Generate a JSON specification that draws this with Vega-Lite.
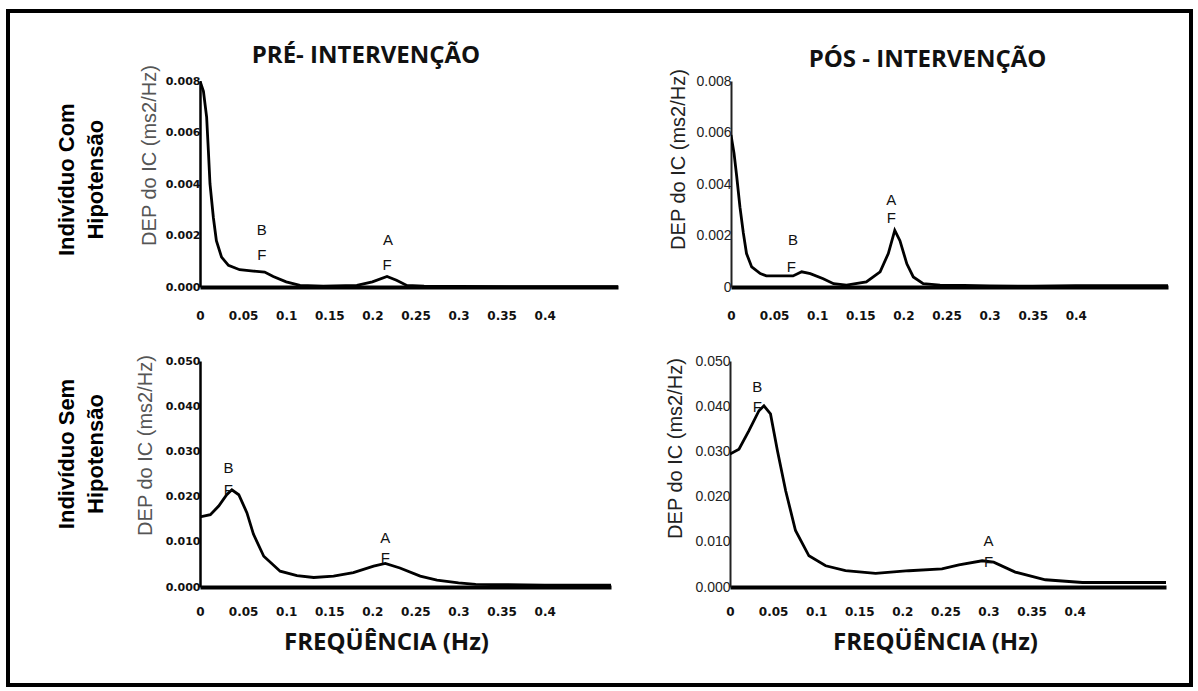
{
  "$schema": "https://vega.github.io/schema/vega-lite/v6.json",
  "padding": {"left": 6, "top": 9, "right": 0, "bottom": 0},
  "background": "white",
  "config": {"view": {"stroke": null}, "font": "Liberation Sans"},
  "datasets": {
    "none": [],
    "curves": [
      {"p": "TL", "f": 0, "v": 0.008}, {"p": "TL", "f": 0.004, "v": 0.0076}, {"p": "TL", "f": 0.0077, "v": 0.0066},
      {"p": "TL", "f": 0.0097, "v": 0.0053}, {"p": "TL", "f": 0.0116, "v": 0.004}, {"p": "TL", "f": 0.0155, "v": 0.0027},
      {"p": "TL", "f": 0.019, "v": 0.0018}, {"p": "TL", "f": 0.025, "v": 0.00116}, {"p": "TL", "f": 0.033, "v": 0.00084},
      {"p": "TL", "f": 0.046, "v": 0.00067}, {"p": "TL", "f": 0.062, "v": 0.00062}, {"p": "TL", "f": 0.075, "v": 0.00058},
      {"p": "TL", "f": 0.085, "v": 0.00041}, {"p": "TL", "f": 0.1, "v": 0.0002}, {"p": "TL", "f": 0.116, "v": 0.00006},
      {"p": "TL", "f": 0.143, "v": 0.00003}, {"p": "TL", "f": 0.182, "v": 0.00006}, {"p": "TL", "f": 0.2, "v": 0.0002},
      {"p": "TL", "f": 0.217, "v": 0.00041}, {"p": "TL", "f": 0.228, "v": 0.00026}, {"p": "TL", "f": 0.24, "v": 0.00006},
      {"p": "TL", "f": 0.26, "v": 0.00003}, {"p": "TL", "f": 0.3, "v": 0.00002}, {"p": "TL", "f": 0.4, "v": 0.00001},
      {"p": "TL", "f": 0.485, "v": 0.00001},
      {"p": "TR", "f": 0, "v": 0.0059}, {"p": "TR", "f": 0.0035, "v": 0.0052}, {"p": "TR", "f": 0.0066, "v": 0.0043},
      {"p": "TR", "f": 0.0104, "v": 0.0031}, {"p": "TR", "f": 0.0143, "v": 0.0021}, {"p": "TR", "f": 0.018, "v": 0.0013},
      {"p": "TR", "f": 0.024, "v": 0.00078}, {"p": "TR", "f": 0.034, "v": 0.00052}, {"p": "TR", "f": 0.041, "v": 0.00043},
      {"p": "TR", "f": 0.072, "v": 0.00043}, {"p": "TR", "f": 0.082, "v": 0.00059}, {"p": "TR", "f": 0.092, "v": 0.00052},
      {"p": "TR", "f": 0.107, "v": 0.00032}, {"p": "TR", "f": 0.119, "v": 0.00013}, {"p": "TR", "f": 0.134, "v": 0.00007},
      {"p": "TR", "f": 0.157, "v": 0.0002}, {"p": "TR", "f": 0.173, "v": 0.00059}, {"p": "TR", "f": 0.1825, "v": 0.0013},
      {"p": "TR", "f": 0.19, "v": 0.0022}, {"p": "TR", "f": 0.196, "v": 0.0018}, {"p": "TR", "f": 0.204, "v": 0.0009},
      {"p": "TR", "f": 0.2115, "v": 0.00039}, {"p": "TR", "f": 0.223, "v": 0.00013}, {"p": "TR", "f": 0.2425, "v": 0.00007},
      {"p": "TR", "f": 0.27, "v": 0.00006}, {"p": "TR", "f": 0.3, "v": 0.00004}, {"p": "TR", "f": 0.35, "v": 0.00003},
      {"p": "TR", "f": 0.4, "v": 0.00005}, {"p": "TR", "f": 0.45, "v": 0.00005}, {"p": "TR", "f": 0.507, "v": 0.00005},
      {"p": "BL", "f": 0, "v": 0.0155}, {"p": "BL", "f": 0.012, "v": 0.016}, {"p": "BL", "f": 0.0217, "v": 0.0179},
      {"p": "BL", "f": 0.031, "v": 0.0204}, {"p": "BL", "f": 0.037, "v": 0.0215}, {"p": "BL", "f": 0.045, "v": 0.0204},
      {"p": "BL", "f": 0.0545, "v": 0.0164}, {"p": "BL", "f": 0.062, "v": 0.0117}, {"p": "BL", "f": 0.074, "v": 0.0068},
      {"p": "BL", "f": 0.093, "v": 0.0035}, {"p": "BL", "f": 0.1125, "v": 0.0025}, {"p": "BL", "f": 0.132, "v": 0.0021},
      {"p": "BL", "f": 0.155, "v": 0.0024}, {"p": "BL", "f": 0.178, "v": 0.0032}, {"p": "BL", "f": 0.2015, "v": 0.0046},
      {"p": "BL", "f": 0.215, "v": 0.0052}, {"p": "BL", "f": 0.232, "v": 0.0042}, {"p": "BL", "f": 0.2556, "v": 0.0024},
      {"p": "BL", "f": 0.275, "v": 0.0015}, {"p": "BL", "f": 0.3, "v": 0.0009}, {"p": "BL", "f": 0.32, "v": 0.0006},
      {"p": "BL", "f": 0.4, "v": 0.0004}, {"p": "BL", "f": 0.477, "v": 0.0004},
      {"p": "BR", "f": 0, "v": 0.0294}, {"p": "BR", "f": 0.0104, "v": 0.0305}, {"p": "BR", "f": 0.022, "v": 0.0346},
      {"p": "BR", "f": 0.0336, "v": 0.039}, {"p": "BR", "f": 0.0394, "v": 0.0401}, {"p": "BR", "f": 0.047, "v": 0.0383},
      {"p": "BR", "f": 0.055, "v": 0.0302}, {"p": "BR", "f": 0.0646, "v": 0.0213}, {"p": "BR", "f": 0.076, "v": 0.0125},
      {"p": "BR", "f": 0.0916, "v": 0.0069}, {"p": "BR", "f": 0.111, "v": 0.0047}, {"p": "BR", "f": 0.134, "v": 0.0036},
      {"p": "BR", "f": 0.169, "v": 0.003}, {"p": "BR", "f": 0.2077, "v": 0.0036}, {"p": "BR", "f": 0.246, "v": 0.004},
      {"p": "BR", "f": 0.2657, "v": 0.0049}, {"p": "BR", "f": 0.2927, "v": 0.0058}, {"p": "BR", "f": 0.306, "v": 0.0055},
      {"p": "BR", "f": 0.331, "v": 0.0033}, {"p": "BR", "f": 0.366, "v": 0.0016}, {"p": "BR", "f": 0.409, "v": 0.001},
      {"p": "BR", "f": 0.506, "v": 0.001}
    ],
    "labels": [
      {"p": "TL", "f": 0.0716, "v": 0.0022, "t": "B"}, {"p": "TL", "f": 0.0716, "v": 0.00124, "t": "F"},
      {"p": "TL", "f": 0.218, "v": 0.00182, "t": "A"}, {"p": "TL", "f": 0.217, "v": 0.00085, "t": "F"},
      {"p": "TR", "f": 0.186, "v": 0.00338, "t": "A"}, {"p": "TR", "f": 0.186, "v": 0.00267, "t": "F"},
      {"p": "TR", "f": 0.072, "v": 0.00182, "t": "B"}, {"p": "TR", "f": 0.07, "v": 0.00078, "t": "F"},
      {"p": "BL", "f": 0.033, "v": 0.0263, "t": "B"}, {"p": "BL", "f": 0.033, "v": 0.0215, "t": "F"},
      {"p": "BL", "f": 0.215, "v": 0.0108, "t": "A"}, {"p": "BL", "f": 0.215, "v": 0.0064, "t": "F"},
      {"p": "BR", "f": 0.0317, "v": 0.0442, "t": "B"}, {"p": "BR", "f": 0.0317, "v": 0.0398, "t": "F"},
      {"p": "BR", "f": 0.3, "v": 0.0102, "t": "A"}, {"p": "BR", "f": 0.3, "v": 0.0055, "t": "F"}
    ]
  },
  "spacing": 0,
  "vconcat": [
    {"width": 1187, "height": 4, "view": {"fill": "black", "stroke": null}, "data": {"name": "none"}, "mark": "text", "encoding": {"text": {"field": "k"}}},
    {
      "spacing": 46,
      "hconcat": [
        {"width": 4, "height": 670, "view": {"fill": "black", "stroke": null}, "data": {"name": "none"}, "mark": "text", "encoding": {"text": {"field": "k"}}},
        {
          "spacing": 21,
          "hconcat": [
            {
              "spacing": 30,
              "vconcat": [
                {"width": 1, "height": 1, "data": {"name": "none"}, "mark": "text", "encoding": {"text": {"field": "k"}}},
                {
                  "spacing": 33,
                  "vconcat": [
                    {
                      "spacing": 50,
                      "title": {"text": ["Indivíduo Com", "Hipotensão"], "orient": "left", "anchor": "middle", "font": "Liberation Sans", "fontSize": 22, "fontWeight": "bold", "lineHeight": 29, "offset": 31, "dx": 3, "color": "black"},
                      "hconcat": [
                        {
                          "width": 418,
                          "height": 206,
                          "title": {"text": "PRÉ- INTERVENÇÃO", "anchor": "middle", "dx": -43, "offset": -4, "font": "Open Sans", "fontSize": 24, "fontWeight": "bold", "color": "#111"},
                          "layer": [
                            {
                              "data": {"name": "curves"},
                              "transform": [{"filter": "datum.p == 'TL'"}],
                              "mark": {"type": "line", "color": "black", "strokeWidth": 2.8, "clip": true},
                              "encoding": {
                                "x": {"field": "f", "type": "quantitative", "scale": {"domain": [0, 0.485], "nice": false},
                                  "axis": {"values": [0, 0.05, 0.1, 0.15, 0.2, 0.25, 0.3, 0.35, 0.4], "format": ".2~f", "title": null, "grid": false, "ticks": false, "domainWidth": 4, "domainColor": "black", "labelFont": "DejaVu Sans", "labelFontWeight": "bold", "labelFontSize": 12, "labelColor": "#111", "labelPadding": 23, "labelFlush": false}},
                                "y": {"field": "v", "type": "quantitative", "scale": {"domain": [0, 0.008], "nice": false},
                                  "axis": {"values": [0, 0.002, 0.004, 0.006, 0.008], "format": ".3f", "title": "DEP do IC (ms2/Hz)", "titleFont": "Liberation Sans", "titleFontSize": 20, "titleFontWeight": "normal", "titleColor": "#555", "titlePadding": 6, "titleY": 74, "grid": false, "ticks": false, "domainWidth": 2.5, "domainColor": "black", "labelFont": "DejaVu Sans", "labelFontWeight": "bold", "labelFontSize": 11, "labelColor": "#111", "labelPadding": 0}}
                              }
                            },
                            {
                              "data": {"name": "labels"},
                              "transform": [{"filter": "datum.p == 'TL'"}],
                              "mark": {"type": "text", "fontSize": 15, "font": "Liberation Sans", "color": "#111"},
                              "encoding": {"x": {"field": "f", "type": "quantitative"}, "y": {"field": "v", "type": "quantitative"}, "text": {"field": "t"}}
                            }
                          ]
                        },
                        {
                          "width": 437,
                          "height": 206,
                          "title": {"text": "PÓS - INTERVENÇÃO", "anchor": "middle", "dx": -22, "offset": -4, "font": "Open Sans", "fontSize": 24, "fontWeight": "bold", "color": "#111"},
                          "layer": [
                            {
                              "data": {"name": "curves"},
                              "transform": [{"filter": "datum.p == 'TR'"}],
                              "mark": {"type": "line", "color": "black", "strokeWidth": 2.8, "clip": true},
                              "encoding": {
                                "x": {"field": "f", "type": "quantitative", "scale": {"domain": [0, 0.507], "nice": false},
                                  "axis": {"values": [0, 0.05, 0.1, 0.15, 0.2, 0.25, 0.3, 0.35, 0.4], "format": ".2~f", "title": null, "grid": false, "ticks": false, "domainWidth": 4, "domainColor": "black", "labelFont": "DejaVu Sans", "labelFontWeight": "bold", "labelFontSize": 12, "labelColor": "#111", "labelPadding": 23, "labelFlush": false}},
                                "y": {"field": "v", "type": "quantitative", "scale": {"domain": [0, 0.008], "nice": false},
                                  "axis": {"values": [0, 0.002, 0.004, 0.006, 0.008], "labelExpr": "datum.value == 0 ? '0' : format(datum.value, '.3f')", "title": "DEP do IC (ms2/Hz)", "titleFont": "Liberation Sans", "titleFontSize": 20, "titleFontWeight": "normal", "titleColor": "#222", "titlePadding": 7, "titleY": 78, "grid": false, "ticks": false, "domainWidth": 2, "domainColor": "#222", "labelFont": "Liberation Sans", "labelFontSize": 14, "labelColor": "#222", "labelPadding": 0}}
                              }
                            },
                            {
                              "data": {"name": "labels"},
                              "transform": [{"filter": "datum.p == 'TR'"}],
                              "mark": {"type": "text", "fontSize": 15, "font": "Liberation Sans", "color": "#111"},
                              "encoding": {"x": {"field": "f", "type": "quantitative"}, "y": {"field": "v", "type": "quantitative"}, "text": {"field": "t"}}
                            }
                          ]
                        }
                      ]
                    },
                    {
                      "spacing": 54,
                      "title": {"text": ["Indivíduo Sem", "Hipotensão"], "orient": "left", "anchor": "middle", "font": "Liberation Sans", "fontSize": 22, "fontWeight": "bold", "lineHeight": 29, "offset": 27, "dx": 50, "color": "black"},
                      "hconcat": [
                        {
                          "width": 411,
                          "height": 226,
                          "layer": [
                            {
                              "data": {"name": "curves"},
                              "transform": [{"filter": "datum.p == 'BL'"}],
                              "mark": {"type": "line", "color": "black", "strokeWidth": 2.8, "clip": true},
                              "encoding": {
                                "x": {"field": "f", "type": "quantitative", "scale": {"domain": [0, 0.477], "nice": false},
                                  "axis": {"values": [0, 0.05, 0.1, 0.15, 0.2, 0.25, 0.3, 0.35, 0.4], "format": ".2~f", "title": "FREQÜÊNCIA (Hz)", "titleFont": "Open Sans", "titleFontSize": 24, "titleFontWeight": "bold", "titleColor": "#111", "titlePadding": 13, "titleX": 186, "grid": false, "ticks": false, "domainWidth": 4, "domainColor": "black", "labelFont": "DejaVu Sans", "labelFontWeight": "bold", "labelFontSize": 12, "labelColor": "#111", "labelPadding": 19, "labelFlush": false}},
                                "y": {"field": "v", "type": "quantitative", "scale": {"domain": [0, 0.05], "nice": false},
                                  "axis": {"values": [0, 0.01, 0.02, 0.03, 0.04, 0.05], "format": ".3f", "title": "DEP do IC (ms2/Hz)", "titleFont": "Liberation Sans", "titleFontSize": 20, "titleFontWeight": "normal", "titleColor": "#555", "titlePadding": 10, "titleY": 84, "grid": false, "ticks": false, "domainWidth": 2.5, "domainColor": "black", "labelFont": "DejaVu Sans", "labelFontWeight": "bold", "labelFontSize": 11, "labelColor": "#111", "labelPadding": 0}}
                              }
                            },
                            {
                              "data": {"name": "labels"},
                              "transform": [{"filter": "datum.p == 'BL'"}],
                              "mark": {"type": "text", "fontSize": 15, "font": "Liberation Sans", "color": "#111"},
                              "encoding": {"x": {"field": "f", "type": "quantitative"}, "y": {"field": "v", "type": "quantitative"}, "text": {"field": "t"}}
                            }
                          ]
                        },
                        {
                          "width": 436,
                          "height": 226,
                          "layer": [
                            {
                              "data": {"name": "curves"},
                              "transform": [{"filter": "datum.p == 'BR'"}],
                              "mark": {"type": "line", "color": "black", "strokeWidth": 2.8, "clip": true},
                              "encoding": {
                                "x": {"field": "f", "type": "quantitative", "scale": {"domain": [0, 0.506], "nice": false},
                                  "axis": {"values": [0, 0.05, 0.1, 0.15, 0.2, 0.25, 0.3, 0.35, 0.4], "format": ".2~f", "title": "FREQÜÊNCIA (Hz)", "titleFont": "Open Sans", "titleFontSize": 24, "titleFontWeight": "bold", "titleColor": "#111", "titlePadding": 13, "titleX": 205, "grid": false, "ticks": false, "domainWidth": 4, "domainColor": "black", "labelFont": "DejaVu Sans", "labelFontWeight": "bold", "labelFontSize": 12, "labelColor": "#111", "labelPadding": 19, "labelFlush": false}},
                                "y": {"field": "v", "type": "quantitative", "scale": {"domain": [0, 0.05], "nice": false},
                                  "axis": {"values": [0, 0.01, 0.02, 0.03, 0.04, 0.05], "format": ".3f", "title": "DEP do IC (ms2/Hz)", "titleFont": "Liberation Sans", "titleFontSize": 20, "titleFontWeight": "normal", "titleColor": "#222", "titlePadding": 9, "titleY": 87, "grid": false, "ticks": false, "domainWidth": 2, "domainColor": "#222", "labelFont": "Liberation Sans", "labelFontSize": 14, "labelColor": "#222", "labelPadding": 0}}
                              }
                            },
                            {
                              "data": {"name": "labels"},
                              "transform": [{"filter": "datum.p == 'BR'"}],
                              "mark": {"type": "text", "fontSize": 15, "font": "Liberation Sans", "color": "#111"},
                              "encoding": {"x": {"field": "f", "type": "quantitative"}, "y": {"field": "v", "type": "quantitative"}, "text": {"field": "t"}}
                            }
                          ]
                        }
                      ]
                    }
                  ]
                }
              ]
            },
            {"width": 4, "height": 670, "view": {"fill": "black", "stroke": null}, "data": {"name": "none"}, "mark": "text", "encoding": {"text": {"field": "k"}}}
          ]
        }
      ]
    },
    {"width": 1187, "height": 4, "view": {"fill": "black", "stroke": null}, "data": {"name": "none"}, "mark": "text", "encoding": {"text": {"field": "k"}}}
  ]
}
